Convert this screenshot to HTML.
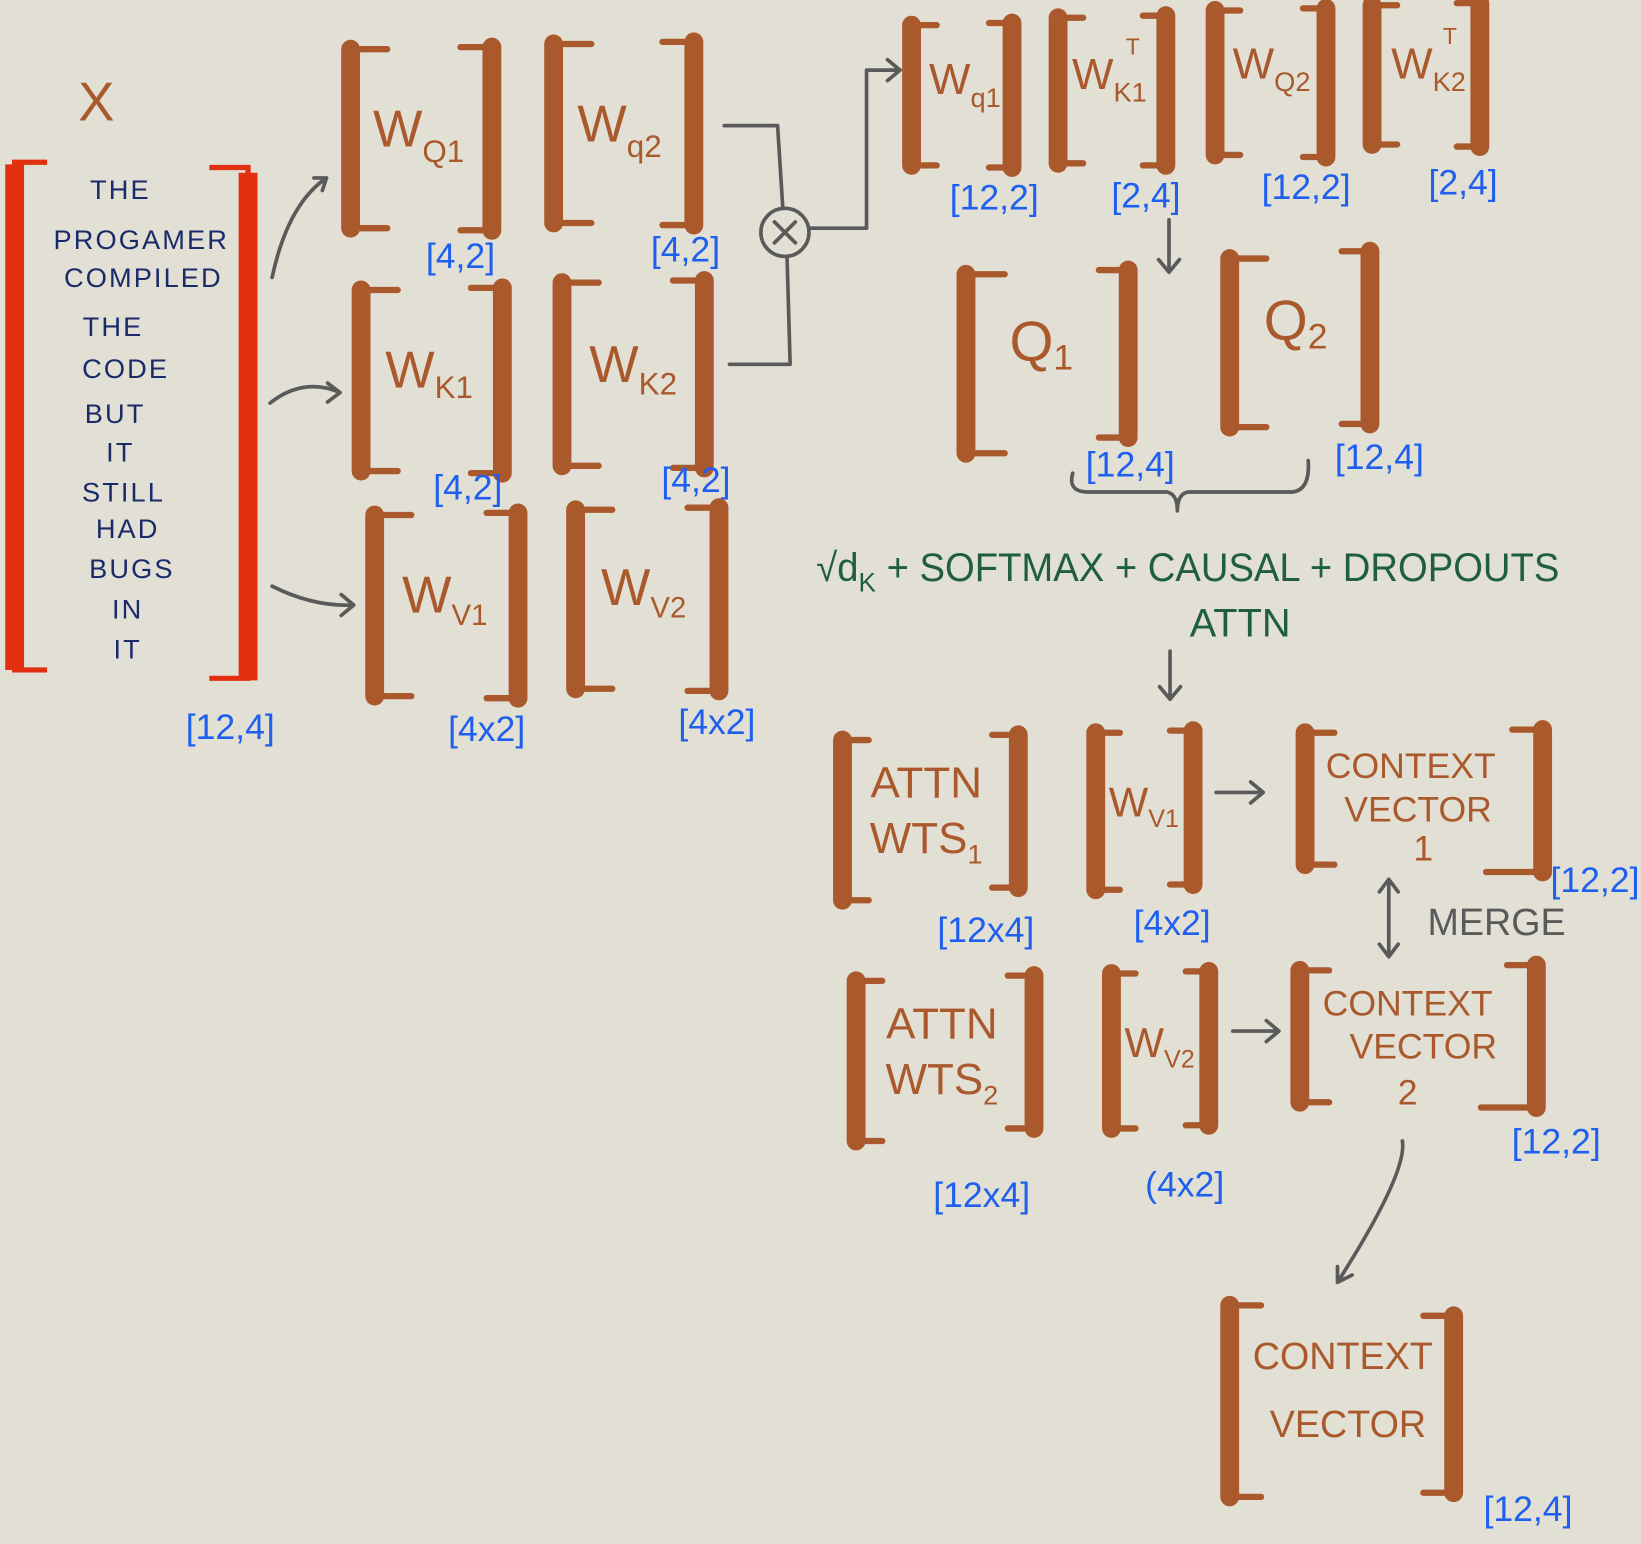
<!DOCTYPE html>
<html><head><meta charset="utf-8"><style>
html,body{margin:0;padding:0;background:#e2dfd4;}
svg{display:block}
.b{fill:none;stroke:#a9592b;stroke-width:6;stroke-linejoin:round;stroke-linecap:round}
.v{stroke:#a9592b;stroke-width:18;stroke-linecap:round}
.r{fill:none;stroke:#e03010;stroke-width:5}
.rv{stroke:#e03010;stroke-width:18}
.t{font-family:"Liberation Sans",sans-serif;fill:#a9592b;text-anchor:middle}
.n{font-family:"Liberation Sans",sans-serif;fill:#1a2a6a;font-size:26px;text-anchor:middle;letter-spacing:2px}
.bl{font-family:"Liberation Sans",sans-serif;fill:#1e5ff0;font-size:34px;text-anchor:middle}
.g{font-family:"Liberation Sans",sans-serif;fill:#1f5e45;font-size:38px;text-anchor:middle}
.a{fill:none;stroke:#5a5a5a;stroke-width:3.5;stroke-linecap:round;stroke-linejoin:round}
</style></head><body>
<svg width="1641" height="1544" viewBox="0 0 1568 1475" preserveAspectRatio="none" xmlns="http://www.w3.org/2000/svg">
<rect width="1568" height="1475" fill="#e2dfd4"/>
<path class="r" d="M45 155H14V640H45"/><line class="rv" x1="14" y1="157" x2="14" y2="640"/>
<path class="r" d="M200 160H237V648H200"/><line class="rv" x1="237" y1="165" x2="237" y2="650"/>
<text class="t" x="92" y="115" font-size="52">X</text>
<text class="n" x="115" y="190">THE</text>
<text class="n" x="135" y="238">PROGAMER</text>
<text class="n" x="137" y="274">COMPILED</text>
<text class="n" x="108" y="321">THE</text>
<text class="n" x="120" y="361">CODE</text>
<text class="n" x="110" y="404">BUT</text>
<text class="n" x="115" y="441">IT</text>
<text class="n" x="118" y="479">STILL</text>
<text class="n" x="122" y="514">HAD</text>
<text class="n" x="126" y="552">BUGS</text>
<text class="n" x="122" y="591">IN</text>
<text class="n" x="122" y="629">IT</text>
<text class="bl" x="220" y="706">[12,4]</text>

<path class="a" d="M260 265Q275 195 312 170M300 170L312 170L308 182"/>
<path class="a" d="M258 385Q290 360 325 375M313 366L325 375L313 384"/>
<path class="a" d="M260 560Q300 580 338 578M326 568L338 578L326 588"/>

<path class="b" d="M370 47H335V218H370"/><line class="v" x1="335" y1="47" x2="335" y2="218"/>
<path class="b" d="M440 45H470V220H440"/><line class="v" x1="470" y1="45" x2="470" y2="220"/>
<text class="t" x="400" y="140" font-size="50">W<tspan font-size="30" dy="15">Q1</tspan></text>
<text class="bl" x="440" y="256">[4,2]</text>
<path class="b" d="M565 42H529V213H565"/><line class="v" x1="529" y1="42" x2="529" y2="213"/>
<path class="b" d="M633 40H663V215H633"/><line class="v" x1="663" y1="40" x2="663" y2="215"/>
<text class="t" x="592" y="135" font-size="50">W<tspan font-size="30" dy="15">q2</tspan></text>
<text class="bl" x="655" y="250">[4,2]</text>
<path class="b" d="M380 277H345V450H380"/><line class="v" x1="345" y1="277" x2="345" y2="450"/>
<path class="b" d="M450 275H480V452H450"/><line class="v" x1="480" y1="275" x2="480" y2="452"/>
<text class="t" x="410" y="370" font-size="50">W<tspan font-size="30" dy="10">K1</tspan></text>
<text class="bl" x="447" y="477">[4,2]</text>
<path class="b" d="M572 270H537V445H572"/><line class="v" x1="537" y1="270" x2="537" y2="445"/>
<path class="b" d="M643 268H673V447H643"/><line class="v" x1="673" y1="268" x2="673" y2="447"/>
<text class="t" x="605" y="365" font-size="50">W<tspan font-size="30" dy="12">K2</tspan></text>
<text class="bl" x="665" y="470">[4,2]</text>
<path class="b" d="M393 492H358V665H393"/><line class="v" x1="358" y1="492" x2="358" y2="665"/>
<path class="b" d="M465 490H495V667H465"/><line class="v" x1="495" y1="490" x2="495" y2="667"/>
<text class="t" x="425" y="585" font-size="50">W<tspan font-size="28" dy="12">V1</tspan></text>
<text class="bl" x="465" y="708">[4x2]</text>
<path class="b" d="M585 487H550V658H585"/><line class="v" x1="550" y1="487" x2="550" y2="658"/>
<path class="b" d="M657 485H687V660H657"/><line class="v" x1="687" y1="485" x2="687" y2="660"/>
<text class="t" x="615" y="578" font-size="50">W<tspan font-size="28" dy="12">V2</tspan></text>
<text class="bl" x="685" y="701">[4x2]</text>

<path class="a" d="M692 120H743L748 199"/>
<path class="a" d="M697 348H755L752 245"/>
<circle cx="750" cy="222" r="23" fill="none" stroke="#5a5a5a" stroke-width="3.5"/>
<path class="a" d="M740 212L760 232M760 212L740 232"/>
<path class="a" d="M773 218H828V67H860M848 57L860 67L848 77"/>

<path class="b" d="M895 24H871V158H895"/><line class="v" x1="871" y1="24" x2="871" y2="158"/>
<path class="b" d="M945 22H967V160H945"/><line class="v" x1="967" y1="22" x2="967" y2="160"/>
<text class="t" x="922" y="90" font-size="42">W<tspan font-size="26" dy="12">q1</tspan></text>
<text class="bl" x="950" y="200" font-size="32">[12,2]</text>
<path class="b" d="M1035 17H1011V156H1035"/><line class="v" x1="1011" y1="17" x2="1011" y2="156"/>
<path class="b" d="M1092 15H1114V158H1092"/><line class="v" x1="1114" y1="15" x2="1114" y2="158"/>
<text class="t" x="1060" y="85" font-size="42">W<tspan font-size="26" dy="12">K1</tspan><tspan font-size="22" dx="-20" dy="-45">T</tspan></text>
<text class="bl" x="1095" y="198" font-size="32">[2,4]</text>
<path class="b" d="M1185 10H1161V148H1185"/><line class="v" x1="1161" y1="10" x2="1161" y2="148"/>
<path class="b" d="M1245 8H1267V150H1245"/><line class="v" x1="1267" y1="8" x2="1267" y2="150"/>
<text class="t" x="1215" y="75" font-size="42">W<tspan font-size="26" dy="12">Q2</tspan></text>
<text class="bl" x="1248" y="190" font-size="32">[12,2]</text>
<path class="b" d="M1335 5H1311V138H1335"/><line class="v" x1="1311" y1="5" x2="1311" y2="138"/>
<path class="b" d="M1392 3H1414V140H1392"/><line class="v" x1="1414" y1="3" x2="1414" y2="140"/>
<text class="t" x="1365" y="75" font-size="42">W<tspan font-size="26" dy="12">K2</tspan><tspan font-size="22" dx="-22" dy="-45">T</tspan></text>
<text class="bl" x="1398" y="186" font-size="32">[2,4]</text>
<path class="a" d="M1117 210V260M1107 248L1117 260L1127 248"/>

<path class="b" d="M960 262H923V433H960"/><line class="v" x1="923" y1="262" x2="923" y2="433"/>
<path class="b" d="M1050 258H1078V418H1050"/><line class="v" x1="1078" y1="258" x2="1078" y2="418"/>
<text class="t" x="995" y="345" font-size="54">Q<tspan font-size="34" dy="8">1</tspan></text>
<text class="bl" x="1080" y="455">[12,4]</text>
<path class="b" d="M1210 247H1175V408H1210"/><line class="v" x1="1175" y1="247" x2="1175" y2="408"/>
<path class="b" d="M1282 240H1309V405H1282"/><line class="v" x1="1309" y1="240" x2="1309" y2="405"/>
<text class="t" x="1238" y="325" font-size="54">Q<tspan font-size="34" dy="8">2</tspan></text>
<text class="bl" x="1318" y="448">[12,4]</text>
<path class="a" d="M1025 452Q1020 470 1040 470H1115Q1125 472 1125 488Q1125 472 1135 470H1235Q1252 468 1250 440"/>

<text class="g" x="1135" y="555" textLength="710" lengthAdjust="spacingAndGlyphs">√d<tspan font-size="26" dy="10">K</tspan><tspan dy="-10"> + SOFTMAX + CAUSAL + DROPOUTS</tspan></text>
<text class="g" x="1185" y="608">ATTN</text>
<path class="a" d="M1118 622V668M1108 656L1118 668L1128 656"/>

<path class="b" d="M830 707H805V860H830"/><line class="v" x1="805" y1="707" x2="805" y2="860"/>
<path class="b" d="M948 702H973V848H948"/><line class="v" x1="973" y1="702" x2="973" y2="848"/>
<text class="t" x="885" y="762" font-size="42">ATTN</text>
<text class="t" x="885" y="815" font-size="42">WTS<tspan font-size="26" dy="10">1</tspan></text>
<text class="bl" x="942" y="900">[12x4]</text>
<path class="b" d="M1070 700H1047V850H1070"/><line class="v" x1="1047" y1="700" x2="1047" y2="850"/>
<path class="b" d="M1118 698H1140V845H1118"/><line class="v" x1="1140" y1="698" x2="1140" y2="845"/>
<text class="t" x="1093" y="780" font-size="40">W<tspan font-size="24" dy="10">V1</tspan></text>
<text class="bl" x="1120" y="893">[4x2]</text>
<path class="a" d="M1162 757H1207M1195 747L1207 757L1195 767"/>
<path class="b" d="M1275 700H1247V826H1275"/><line class="v" x1="1247" y1="700" x2="1247" y2="826"/>
<path class="b" d="M1445 697H1474V833H1420"/><line class="v" x1="1474" y1="697" x2="1474" y2="833"/>
<text class="t" x="1348" y="743" font-size="34">CONTEXT</text>
<text class="t" x="1355" y="785" font-size="34">VECTOR</text>
<text class="t" x="1360" y="822" font-size="34">1</text>
<text class="bl" x="1524" y="852" font-size="32">[12,2]</text>
<path class="a" d="M1327 842V912M1318 852L1327 840L1336 852M1318 902L1327 914L1336 902"/>
<text x="1430" y="893" font-family="Liberation Sans,sans-serif" font-size="36" fill="#5a5a5a" text-anchor="middle">MERGE</text>

<path class="b" d="M843 937H818V1090H843"/><line class="v" x1="818" y1="937" x2="818" y2="1090"/>
<path class="b" d="M963 932H988V1078H963"/><line class="v" x1="988" y1="932" x2="988" y2="1078"/>
<text class="t" x="900" y="992" font-size="42">ATTN</text>
<text class="t" x="900" y="1045" font-size="42">WTS<tspan font-size="26" dy="10">2</tspan></text>
<text class="bl" x="938" y="1153">[12x4]</text>
<path class="b" d="M1085 930H1062V1078H1085"/><line class="v" x1="1062" y1="930" x2="1062" y2="1078"/>
<path class="b" d="M1133 928H1155V1075H1133"/><line class="v" x1="1155" y1="928" x2="1155" y2="1075"/>
<text class="t" x="1108" y="1010" font-size="40">W<tspan font-size="24" dy="10">V2</tspan></text>
<text class="bl" x="1132" y="1143">(4x2]</text>
<path class="a" d="M1178 985H1222M1210 975L1222 985L1210 995"/>
<path class="b" d="M1270 927H1242V1053H1270"/><line class="v" x1="1242" y1="927" x2="1242" y2="1053"/>
<path class="b" d="M1440 922H1468V1058H1415"/><line class="v" x1="1468" y1="922" x2="1468" y2="1058"/>
<text class="t" x="1345" y="970" font-size="34">CONTEXT</text>
<text class="t" x="1360" y="1011" font-size="34">VECTOR</text>
<text class="t" x="1345" y="1055" font-size="34">2</text>
<text class="bl" x="1487" y="1102" font-size="32">[12,2]</text>
<path class="a" d="M1340 1090Q1345 1120 1278 1225M1278 1210L1278 1225L1292 1218"/>

<path class="b" d="M1205 1247H1175V1430H1205"/><line class="v" x1="1175" y1="1247" x2="1175" y2="1430"/>
<path class="b" d="M1360 1257H1389V1426H1360"/><line class="v" x1="1389" y1="1257" x2="1389" y2="1426"/>
<text class="t" x="1283" y="1308" font-size="36">CONTEXT</text>
<text class="t" x="1288" y="1373" font-size="36">VECTOR</text>
<text class="bl" x="1460" y="1453" font-size="38">[12,4]</text>
</svg>
</body></html>
